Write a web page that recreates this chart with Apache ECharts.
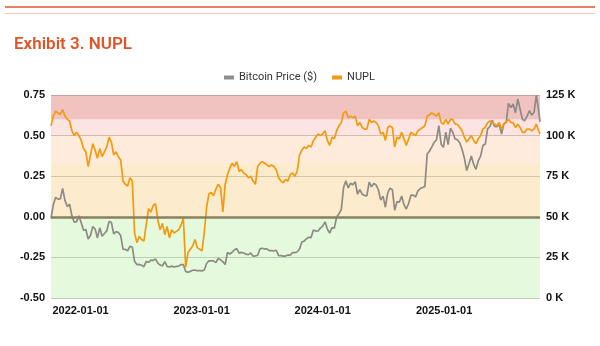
<!DOCTYPE html>
<html>
<head>
<meta charset="utf-8">
<script src="https://cdn.jsdelivr.net/npm/echarts@6/dist/echarts.min.js"></script>
<style>
html,body{margin:0;padding:0;background:#fff;}
#chart{width:600px;height:346px;}
</style>
</head>
<body>
<div id="chart"></div>
<script>
// Weekly observation dates (Mondays) from 2021-10-04, plus the final day shown
const startDate = '2021-10-04';
const weekCount = 211;
const lastDate = '2025-10-17';

// Bitcoin price, thousands of USD
const btcPrice = [
  49.1, 57.4, 62.0, 60.9, 61.0, 67.5, 60.1, 56.3, 57.8, 50.6, 46.7, 46.9, 50.6,
  46.4, 41.8, 42.2, 36.3, 38.5, 44.0, 42.5, 37.0, 43.2, 38.0, 39.7, 41.3, 47.1,
  46.6, 39.5, 40.8, 40.4, 38.5, 30.1, 29.9, 29.1, 31.8, 31.4, 22.5, 20.6, 20.7,
  20.2, 19.3, 22.5, 22.0, 23.3, 23.1, 24.1, 21.5, 20.3, 19.8, 22.4, 19.5, 19.1,
  19.6, 19.1, 19.5, 19.6, 20.6, 20.6, 16.3, 15.8, 16.4, 17.1, 17.2, 16.8, 16.9,
  16.7, 17.2, 21.2, 22.9, 22.8, 22.9, 21.8, 24.4, 23.5, 22.4, 20.6, 28.0, 27.1,
  28.2, 29.7, 30.4, 27.6, 28.1, 27.7, 27.0, 26.7, 27.7, 25.8, 25.9, 26.3, 30.3,
  30.6, 30.2, 30.2, 29.2, 29.2, 29.0, 29.4, 26.1, 26.1, 25.8, 25.8, 26.5, 26.3,
  27.9, 27.9, 28.5, 30.0, 34.5, 35.0, 36.5, 37.4, 37.2, 41.9, 41.2, 41.3, 43.0,
  44.2, 46.9, 42.5, 39.9, 43.3, 43.0, 49.9, 51.8, 54.5, 68.2, 72.1, 67.8, 70.7,
  69.7, 71.6, 63.9, 66.8, 63.9, 63.2, 62.9, 71.4, 68.5, 70.5, 69.6, 66.5, 60.3,
  62.7, 55.9, 64.7, 67.6, 66.7, 54.0, 59.3, 59.0, 62.8, 57.5, 54.8, 58.2, 63.3,
  63.3, 62.3, 66.0, 67.4, 68.0, 68.7, 88.7, 90.5, 93.1, 95.9, 97.4, 106.1, 94.7, 92.8,
  102.1, 94.5, 104.5, 102.1, 97.9, 97.5, 95.6, 91.6, 86.2, 78.5, 82.7, 87.5, 82.4,
  79.2, 84.5, 87.4, 94.0, 94.7, 104.2, 105.6, 109.4, 105.7, 105.5, 106.8, 101.0, 107.3,
  108.2, 119.8, 117.3, 119.4, 114.1, 122.5, 116.2, 110.0, 109.2, 112.0, 115.3, 112.7, 114.3,
  124.8, 115.2,
  108.5
];

// Net Unrealized Profit/Loss
const nupl = [
  0.56, 0.62, 0.65, 0.64, 0.63, 0.66, 0.62, 0.60, 0.59, 0.53, 0.50, 0.52, 0.50,
  0.47, 0.42, 0.40, 0.31, 0.38, 0.45, 0.41, 0.36, 0.42, 0.37, 0.40, 0.43, 0.49,
  0.46, 0.38, 0.40, 0.37, 0.35, 0.22, 0.20, 0.19, 0.24, 0.22, -0.10, -0.16, -0.12,
  -0.14, -0.15, -0.05, 0.05, 0.03, 0.07, 0.08, -0.02, -0.08, -0.04, -0.11, -0.06, -0.13,
  -0.08, -0.10, -0.09, -0.08, -0.05, -0.01, -0.31, -0.22, -0.20, -0.18, -0.14, -0.19, -0.20,
  -0.21, -0.10, 0.06, 0.14, 0.15, 0.13, 0.17, 0.20, 0.18, 0.03, 0.20, 0.26, 0.30,
  0.33, 0.31, 0.34, 0.28, 0.29, 0.27, 0.26, 0.24, 0.25, 0.22, 0.20, 0.31, 0.33,
  0.34, 0.33, 0.32, 0.31, 0.32, 0.31, 0.29, 0.24, 0.22, 0.21, 0.23, 0.22, 0.26,
  0.27, 0.25, 0.28, 0.38, 0.41, 0.43, 0.42, 0.44, 0.43, 0.47, 0.49, 0.51, 0.50,
  0.51, 0.53, 0.47, 0.44, 0.49, 0.48, 0.53, 0.56, 0.58, 0.64, 0.65, 0.61, 0.62,
  0.61, 0.62, 0.56, 0.58, 0.55, 0.54, 0.54, 0.60, 0.58, 0.59, 0.58, 0.56, 0.51,
  0.52, 0.47, 0.55, 0.56, 0.55, 0.43, 0.49, 0.48, 0.52, 0.48, 0.44, 0.48, 0.52,
  0.51, 0.50, 0.53, 0.54, 0.55, 0.56, 0.62, 0.63, 0.64, 0.63, 0.62, 0.64, 0.58, 0.57,
  0.60, 0.57, 0.60, 0.60, 0.57, 0.57, 0.55, 0.53, 0.49, 0.46, 0.48, 0.50, 0.47,
  0.45, 0.48, 0.50, 0.54, 0.55, 0.58, 0.59, 0.58, 0.57, 0.56, 0.58, 0.54, 0.57,
  0.58, 0.60, 0.58, 0.58, 0.55, 0.57, 0.55, 0.52, 0.52, 0.54, 0.54, 0.53, 0.54,
  0.57, 0.53,
  0.51
];

// NUPL zone boundaries (left axis values)
const zoneBounds = [-0.5, 0, 0.33, 0.5, 0.6, 0.75];
const zoneColors = [
  'rgba(150,230,120,0.25)',
  'rgba(250,190,90,0.30)',
  'rgba(250,170,110,0.24)',
  'rgba(240,120,110,0.20)',
  'rgba(214,86,80,0.36)'
];

const leftTicks = { min: -0.5, max: 0.75, interval: 0.25 };
const rightTicks = { min: 0, max: 125, interval: 25 };

// build date list
const dates = [];
(function () {
  const t0 = Date.parse(startDate + 'T00:00:00Z');
  for (let i = 0; i < weekCount; i++) dates.push(t0 + i * 7 * 86400000);
  dates.push(Date.parse(lastDate + 'T00:00:00Z'));
})();

const btcData = dates.map((d, i) => [d, btcPrice[i]]);
const nuplData = dates.map((d, i) => [d, nupl[i]]);

const areas = [];
for (let i = 0; i < zoneColors.length; i++) {
  areas.push([
    { yAxis: zoneBounds[i], itemStyle: { color: zoneColors[i] } },
    { yAxis: zoneBounds[i + 1] }
  ]);
}

const axisFont = { fontFamily: 'Liberation Sans, Arial, sans-serif', fontWeight: 'bold', fontSize: 11, color: '#111' };

const chart = echarts.init(document.getElementById('chart'), null, { renderer: 'canvas' });
chart.setOption({
  animation: false,
  backgroundColor: '#ffffff',
  title: {
    text: 'Exhibit 3. NUPL',
    left: 9,
    top: 31,
    textStyle: { color: '#DD5629', fontSize: 17, fontWeight: 600, fontFamily: 'Roboto, sans-serif' }
  },
  graphic: [
    { type: 'line', shape: { x1: 5, y1: 7, x2: 595, y2: 7 }, style: { stroke: '#E0552B', lineWidth: 1.5 } },
    { type: 'line', shape: { x1: 5, y1: 13.5, x2: 595, y2: 13.5 }, style: { stroke: '#F3C8BA', lineWidth: 1 } }
  ],
  legend: {
    data: ['Bitcoin Price ($)', 'NUPL'],
    left: 219,
    top: 67,
    icon: 'rect',
    itemWidth: 10,
    itemHeight: 4,
    itemGap: 15,
    textStyle: { fontFamily: 'Roboto, sans-serif', fontSize: 11, color: '#333' }
  },
  grid: { left: 51, right: 60, top: 95, bottom: 48 },
  xAxis: {
    type: 'time',
    min: dates[0],
    max: dates[dates.length - 1],
    minInterval: 365 * 86400000,
    maxInterval: 366 * 86400000,
    axisLine: { show: false },
    axisTick: { show: false },
    splitLine: { show: false },
    axisLabel: Object.assign({ formatter: '{yyyy}-{MM}-{dd}', margin: 7, showMinLabel: false, showMaxLabel: false }, axisFont)
  },
  yAxis: [
    {
      type: 'value',
      min: leftTicks.min, max: leftTicks.max, interval: leftTicks.interval,
      axisLine: { show: false },
      axisTick: { show: false },
      splitLine: { lineStyle: { color: '#c8c8c8', width: 1 } },
      axisLabel: Object.assign({ margin: 6, formatter: v => v.toFixed(2) }, axisFont)
    },
    {
      type: 'value',
      min: rightTicks.min, max: rightTicks.max, interval: rightTicks.interval,
      axisLine: { show: false },
      axisTick: { show: false },
      splitLine: { show: false },
      axisLabel: Object.assign({ margin: 6, formatter: v => v + ' K' }, axisFont)
    }
  ],
  series: [
    {
      name: 'Bitcoin Price ($)',
      type: 'line',
      yAxisIndex: 1,
      data: btcData,
      showSymbol: false,
      z: 2,
      color: '#8e8e8e',
      lineStyle: { width: 1.7, color: '#8e8a84' }
    },
    {
      name: 'NUPL',
      type: 'line',
      yAxisIndex: 0,
      data: nuplData,
      showSymbol: false,
      z: 3,
      color: '#F39A0E',
      lineStyle: { width: 1.7, color: '#F39A0E' }
    },
    {
      name: 'zones',
      type: 'line',
      yAxisIndex: 0,
      data: [],
      z: 10,
      silent: true,
      markArea: { silent: true, data: areas },
      markLine: {
        silent: true,
        symbol: 'none',
        label: { show: false },
        lineStyle: { color: '#8a7f5e', width: 2.5, type: 'solid' },
        data: [{ yAxis: 0 }]
      }
    }
  ]
});
</script>
</body>
</html>
